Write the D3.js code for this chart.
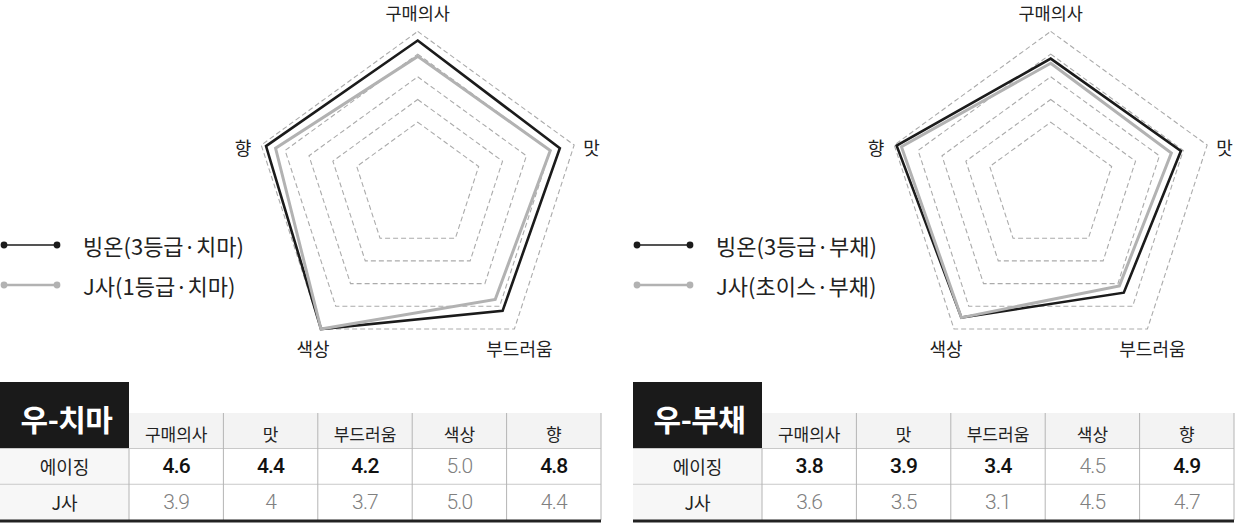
<!DOCTYPE html>
<html>
<head>
<meta charset="utf-8">
<script src="https://cdn.jsdelivr.net/npm/d3@7"></script>
<style>
  body { margin: 0; background: #fff; }
  svg { display: block; font-family: "Noto Sans CJK KR", "Noto Sans", sans-serif; }
</style>
</head>
<body>
<script>
// data
var axes = ["구매의사", "맛", "부드러움", "색상", "향"];
var panelTitles = ["우-치마", "우-부채"];
var legendNames = [
    ["빙온(3등급·치마)", "J사(1등급·치마)"],
    ["빙온(3등급·부채)", "J사(초이스·부채)"]
];
var rowLabels = ["에이징", "J사"];
// kept as text so the table shows "4" and "5.0" the way the picture does
var chimaAging = ["4.6", "4.4", "4.2", "5.0", "4.8"];
var chimaJ = ["3.9", "4", "3.7", "5.0", "4.4"];
var buchaeAging = ["3.8", "3.9", "3.4", "4.5", "4.9"];
var buchaeJ = ["3.6", "3.5", "3.1", "4.5", "4.7"];
var gridLevels = [1, 2, 3, 4, 5];

var panels = [
    {title: panelTitles[0], names: legendNames[0], aging: chimaAging, j: chimaJ},
    {title: panelTitles[1], names: legendNames[1], aging: buchaeAging, j: buchaeJ}
];

var W = 1237, H = 523;
var panelStep = 633;
var blackCol = "#1b1b1b", grayCol = "#b2b2b2";

var svg = d3.select("body").append("svg")
    .attr("width", W)
    .attr("height", H);

// radius scale, rings sit at 1..5
var r = d3.scaleLinear().domain([0, 5]).range([39, 164.5]);
var angle = d3.scaleLinear().domain([0, axes.length]).range([0, 2 * Math.PI]);

panels.forEach(function (p, k) {
    var off = k * panelStep;
    var cx = 417.7 + off, cy = 180.2;
    var g = svg.append("g");

    // the rings in the original were scaled about their bounding box centre,
    // so the pentagon is nudged down a bit as it grows
    function pt(i, rad) {
        var a = angle(i);
        return [cx + rad * Math.sin(a), cy + rad * (-Math.cos(a) + 0.0955)];
    }
    function poly(vals) {
        return vals.map(function (v, i) { return pt(i, r(v)); });
    }
    var line = d3.line().curve(d3.curveLinearClosed);

    // dashed grid
    g.selectAll(".ring")
        .data(gridLevels)
        .enter().append("path")
        .attr("class", "ring")
        .attr("d", function (lv) { return line(poly(axes.map(function () { return lv; }))); })
        .attr("fill", "none")
        .attr("stroke", "#ababab")
        .attr("stroke-width", 1.1)
        .attr("stroke-dasharray", "5,3");

    // series
    var series = [
        {vals: p.aging.map(Number), col: blackCol, w: 2.6},
        {vals: p.j.map(Number), col: grayCol, w: 3}
    ];
    g.selectAll(".series")
        .data(series)
        .enter().append("path")
        .attr("class", "series")
        .attr("d", function (s) { return line(poly(s.vals)); })
        .attr("fill", "none")
        .attr("stroke", function (s) { return s.col; })
        .attr("stroke-width", function (s) { return s.w; })
        .attr("stroke-linejoin", "miter");

    // axis labels around the outer ring (top one sits on its baseline so it stays inside)
    var labelOff = [[0, -11.5, "middle", "auto"], [9, 2, "start", "central"], [5, 19, "middle", "central"],
                    [-8, 19, "middle", "central"], [-10, 2, "end", "central"]];
    g.selectAll(".axlab")
        .data(axes)
        .enter().append("text")
        .attr("class", "axlab")
        .attr("x", function (d, i) { return pt(i, r(5))[0] + labelOff[i][0]; })
        .attr("y", function (d, i) { return pt(i, r(5))[1] + labelOff[i][1]; })
        .attr("text-anchor", function (d, i) { return labelOff[i][2]; })
        .attr("dominant-baseline", function (d, i) { return labelOff[i][3]; })
        .attr("font-size", function (d, i) { return i ? 18 : 17.5; })
        .attr("fill", "#222")
        .text(function (d) { return d; });

    // legend
    var leg = g.selectAll(".leg")
        .data(p.names)
        .enter().append("g")
        .attr("class", "leg")
        .attr("transform", function (d, i) { return "translate(" + off + "," + (245 + i * 40) + ")"; });
    leg.append("line")
        .attr("x1", 4).attr("x2", 57)
        .attr("stroke", function (d, i) { return i ? grayCol : blackCol; })
        .attr("stroke-width", function (d, i) { return i ? 2.4 : 1.6; });
    leg.selectAll("circle")
        .data(function (d, i) { return [i, i]; })
        .enter().append("circle")
        .attr("cx", function (d, j) { return j ? 57 : 4; })
        .attr("r", 3.4)
        .attr("fill", function (d) { return d ? grayCol : blackCol; });
    leg.append("text")
        .attr("x", 83)
        .attr("dominant-baseline", "central")
        .attr("font-size", 22)
        .attr("fill", "#222")
        .text(function (d) { return d; });

    // table
    var t = svg.append("g");
    var left = off, boxW = 129, right = off + 601;
    var x = d3.scaleBand().domain(axes).range([left + boxW, right]);
    var y = d3.scaleBand().domain(rowLabels).range([448.5, 520]);
    var headTop = 413, headBot = 448.5;

    t.append("rect")
        .attr("x", left + boxW).attr("y", headTop)
        .attr("width", right - left - boxW).attr("height", headBot - headTop)
        .attr("fill", "#f3f3f3");
    t.append("rect")
        .attr("x", left).attr("y", headBot)
        .attr("width", boxW).attr("height", 520 - headBot)
        .attr("fill", "#f7f7f7");
    t.append("rect")
        .attr("x", left).attr("y", 382)
        .attr("width", boxW).attr("height", headBot - 382)
        .attr("fill", "#1a1a1a");
    t.append("text")
        .attr("x", left + boxW / 2 + 2).attr("y", 418)
        .attr("text-anchor", "middle")
        .attr("dominant-baseline", "central")
        .attr("font-size", 30)
        .attr("font-weight", 700)
        .attr("letter-spacing", -0.5)
        .attr("fill", "#fff")
        .text(p.title);

    // row lines
    t.selectAll(".hl")
        .data([headBot, y(rowLabels[1])])
        .enter().append("line")
        .attr("x1", left).attr("x2", right)
        .attr("y1", function (d) { return d; }).attr("y2", function (d) { return d; })
        .attr("stroke", "#c9c9c9");
    // column lines
    t.selectAll(".vl")
        .data(axes.slice(1).map(function (a) { return x(a); }).concat([right]))
        .enter().append("line")
        .attr("x1", function (d) { return d; }).attr("x2", function (d) { return d; })
        .attr("y1", headTop).attr("y2", 520)
        .attr("stroke", "#b4b4b4");
    t.append("line")
        .attr("x1", left + boxW).attr("x2", left + boxW)
        .attr("y1", headBot).attr("y2", 520)
        .attr("stroke", "#b4b4b4");
    t.append("line")
        .attr("x1", left).attr("x2", right)
        .attr("y1", 521).attr("y2", 521)
        .attr("stroke", "#222")
        .attr("stroke-width", 3.2);

    t.selectAll(".hd")
        .data(axes)
        .enter().append("text")
        .attr("x", function (d) { return x(d) + x.bandwidth() / 2; })
        .attr("y", 433.5)
        .attr("text-anchor", "middle")
        .attr("dominant-baseline", "central")
        .attr("font-size", 17)
        .attr("fill", "#222")
        .text(function (d) { return d; });

    t.selectAll(".rl")
        .data(rowLabels)
        .enter().append("text")
        .attr("x", left + boxW / 2)
        .attr("y", function (d) { return y(d) + y.bandwidth() / 2; })
        .attr("text-anchor", "middle")
        .attr("dominant-baseline", "central")
        .attr("font-size", 18)
        .attr("fill", "#222")
        .text(function (d) { return d; });

    var rows = [p.aging, p.j];
    rows.forEach(function (vals, ri) {
        t.selectAll(".v" + ri)
            .data(vals)
            .enter().append("text")
            .attr("x", function (d, i) { return x(axes[i]) + x.bandwidth() / 2; })
            .attr("y", y(rowLabels[ri]) + y.bandwidth() / 2)
            .attr("text-anchor", "middle")
            .attr("dominant-baseline", "central")
            .attr("font-size", 21)
            .attr("letter-spacing", -0.8)
            .attr("font-family", "Roboto, 'Noto Sans', sans-serif")
            .each(function (d, i) {
                // higher score is set bold and dark
                var strong = ri === 0 && +d > +p.j[i];
                d3.select(this)
                    .attr("font-weight", strong ? 500 : 300)
                    .attr("fill", strong ? "#111" : "#808080");
            })
            .text(function (d) { return d; });
    });
});
</script>
</body>
</html>
